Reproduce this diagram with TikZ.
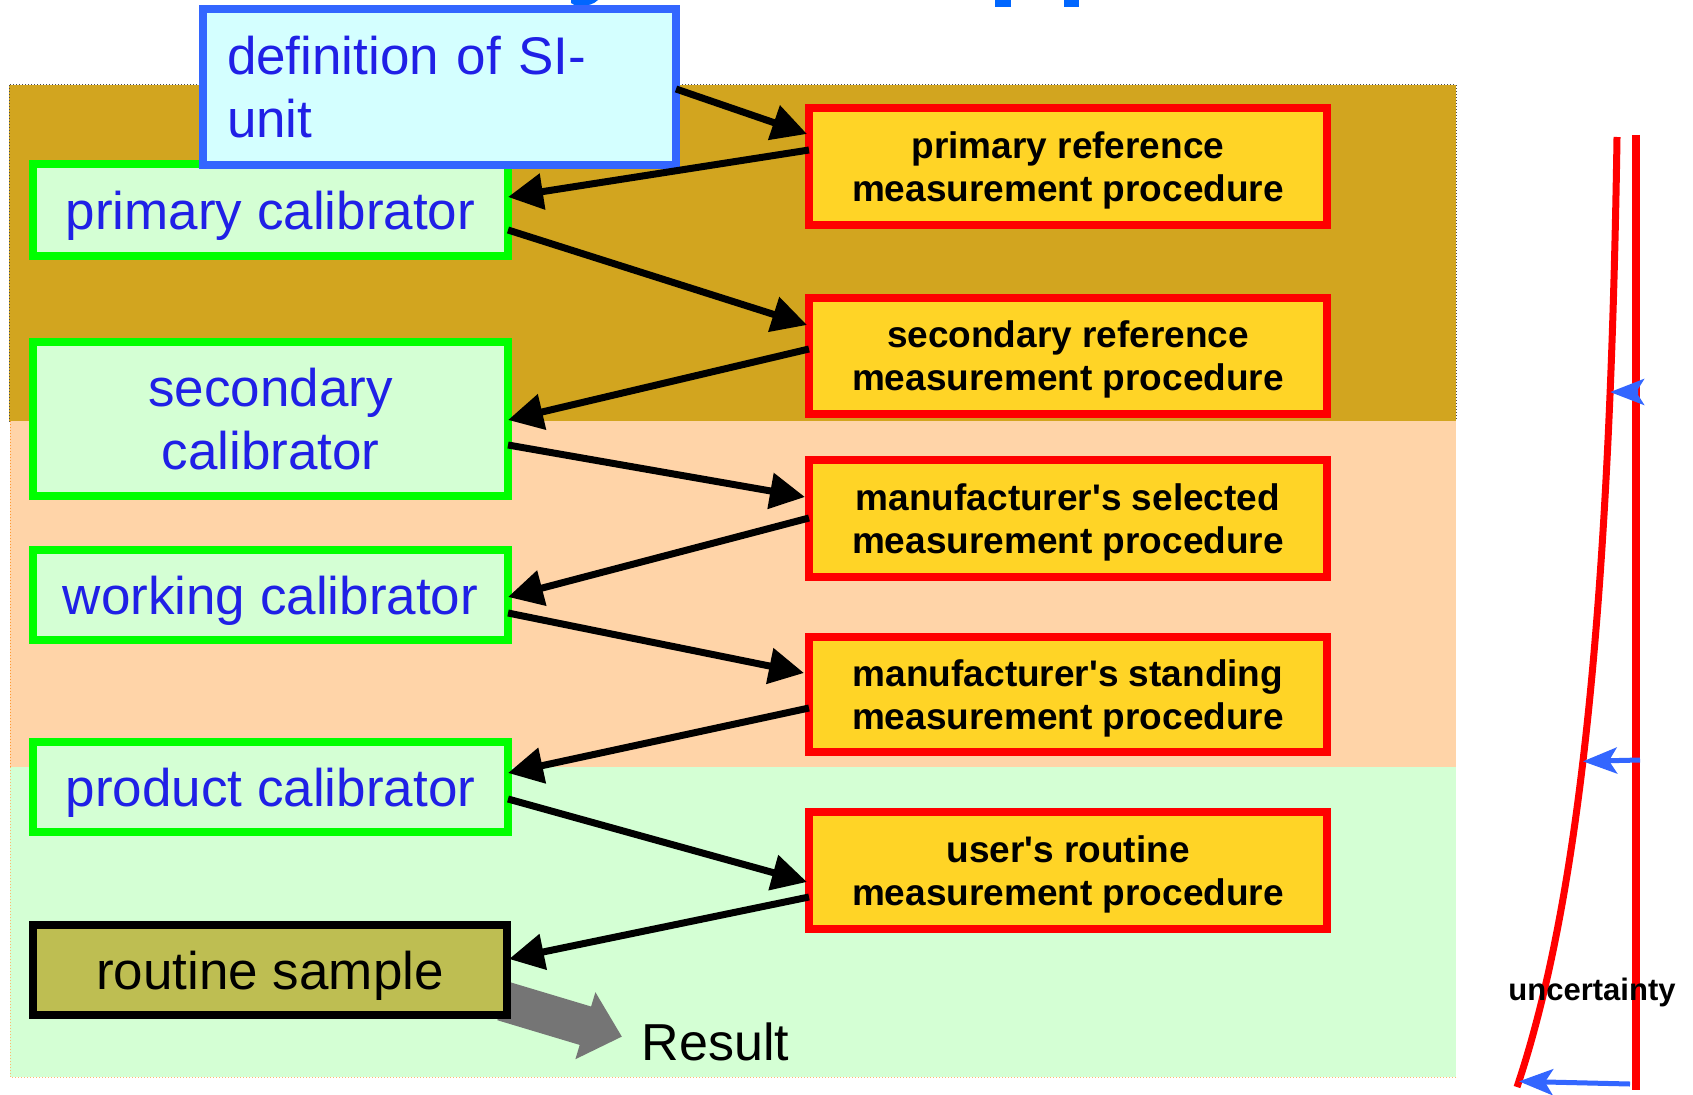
\documentclass[tikz,border=0pt]{standalone}
\usepackage{fontspec}
\setmainfont{Liberation Sans}
\usetikzlibrary{arrows.meta,calc}
\definecolor{brownbase}{HTML}{CC9900}
\definecolor{peachbase}{HTML}{FFCC99}
\definecolor{greenbase}{HTML}{CCFFCC}
\definecolor{cyanbase}{HTML}{CCFFFF}
\definecolor{yellowbase}{HTML}{FFCC00}
\definecolor{olivebase}{HTML}{B3B333}
\definecolor{graybase}{HTML}{666666}
\definecolor{bluetext}{RGB}{32,32,230}
\definecolor{defblue}{HTML}{3366FF}
\definecolor{titleblue}{HTML}{0066FF}
\definecolor{calgreen}{HTML}{00FF00}
\definecolor{bandorange}{HTML}{FF9933}
\tikzset{
  band/.style={line width=1pt, dotted},
  calbox/.style={draw=calgreen, line width=8pt, fill=greenbase!85!white, text=bluetext,
    font=\fontsize{53}{63}\selectfont, align=center, minimum width=475pt,
    inner sep=0pt, outer sep=0pt, text depth=0pt},
  procbox/.style={draw=red, line width=8pt, fill=yellowbase!85!white, text=black,
    font=\bfseries\fontsize{37}{43}\selectfont, align=center, minimum width=518pt,
    inner sep=0pt, outer sep=0pt, text depth=0pt},
  defbox/.style={draw=defblue, line width=8pt, fill=cyanbase!85!white, text=bluetext,
    font=\fontsize{53}{63}\selectfont, align=left, text width=425pt,
    inner xsep=24pt, inner ysep=0pt, minimum height=156pt, outer sep=0pt},
  samplebox/.style={draw=black, line width=8pt, fill=olivebase!85!white, text=black,
    font=\fontsize{53}{63}\selectfont, minimum width=474pt, minimum height=90pt,
    inner sep=0pt, outer sep=0pt, text depth=0pt},
  conn/.style={draw=black, line width=7pt, -{Triangle[length=35pt,width=35pt]}},
  uarrow/.style={draw=defblue, line width=5pt, -{Stealth[length=34pt,width=26pt,inset=8pt]}},
  plain/.style={inner sep=0pt, outer sep=0pt, text depth=0pt}
}
\begin{document}
\begin{tikzpicture}[x=1pt,y=-1pt]
\useasboundingbox (0,0) rectangle (1693,1094);
\fill[white] (0,0) rectangle (1693,1094);

% title fragments (cut off at the top)
\fill[titleblue] (571,0) -- (598,0) .. controls (594,4) and (588,6) .. (580,6)
  .. controls (576,6) and (573,5) .. (571,3) -- cycle;
\fill[titleblue] (995,0) rectangle (1011,7);
\fill[titleblue] (1064,0) rectangle (1079,7);

% background bands
\fill[brownbase!88!white] (9,85) rectangle (1456,421);
\draw[band, black!70] (9,85) rectangle (1456,421);
\fill[peachbase!85!white] (10,421) rectangle (1456,767);
\draw[band, bandorange] (10,421) -- (10,767) -- (1456,767);
\fill[greenbase!85!white] (10,767) rectangle (1456,1077);
\draw[band, bandorange!70] (10,767) -- (10,1077) -- (1456,1077);

% calibrators
\node[calbox, minimum height=92pt]  (pc)  at (270.5,210) {primary calibrator};
\node[calbox, minimum height=154pt] (sc)  at (270.5,419) {secondary\\calibrator};
\node[calbox, minimum height=90pt]  (wc)  at (270.5,595) {working calibrator};
\node[calbox, minimum height=90pt]  (prc) at (270.5,787) {product calibrator};

% definition
\node[defbox] (def) at (439.5,87) {definition of SI-\\unit};

% procedures
\node[procbox, minimum height=117pt] (prm)  at (1068,166.5) {primary reference\\measurement procedure};
\node[procbox, minimum height=116pt] (srm)  at (1068,356)   {secondary reference\\measurement procedure};
\node[procbox, minimum height=117pt] (msel) at (1068,518.5) {manufacturer\textquotesingle s selected\\measurement procedure};
\node[procbox, minimum height=115pt] (mst)  at (1068,694.5) {manufacturer\textquotesingle s standing\\measurement procedure};
\node[procbox, minimum height=117pt] (usr)  at (1068,870.5) {user\textquotesingle s routine\\measurement procedure};

% result arrow (under the routine sample box)
\fill[graybase!90!white] (508.7,981.8) -- (591.1,1006.5) -- (595.4,992.2) -- (621.8,1036.6)
  -- (575.4,1059.2) -- (579.7,1044.9) -- (497.3,1020.2) -- cycle;

% routine sample
\node[samplebox] (rs) at (270,970) {routine sample};
\node[plain, font=\fontsize{52}{62}\selectfont] (res) at (715.5,1041.5) {Result};

% connectors
\draw[conn] ($(def.north east)+(0,80)$)  -- ($(prm.north west)+(-2,26)$);
\draw[conn] ($(prm.north west)+(0,42)$)  -- ($(pc.north east)+(0,33)$);
\draw[conn] ($(pc.north east)+(0,66)$)   -- ($(srm.north west)+(-2,27)$);
\draw[conn] ($(srm.north west)+(0,51)$)  -- ($(sc.north east)+(0,78)$);
\draw[conn] ($(sc.north east)+(0,103)$)  -- ($(msel.north west)+(-4,37)$);
\draw[conn] ($(msel.north west)+(0,58)$) -- ($(wc.north east)+(0,47)$);
\draw[conn] ($(wc.north east)+(0,63)$)   -- ($(mst.north west)+(-5,36)$);
\draw[conn] ($(mst.north west)+(0,71)$)  -- ($(prc.north east)+(0,31)$);
\draw[conn] ($(prc.north east)+(0,57)$)  -- ($(usr.north west)+(-2,70)$);
\draw[conn] ($(usr.north west)+(0,85)$)  -- ($(rs.north east)+(2,34)$);

% uncertainty graphic
\coordinate (ua) at (1636,135);
\coordinate (ub) at (1636,1090);
\coordinate (ct) at (1617,137);
\coordinate (cb) at (1517,1087);
\draw[red, line width=8pt] (ua) -- (ub);
\draw[red, line width=7pt] (ct) .. controls (1610,600) and (1580,900) .. (cb)
  coordinate[pos=0.197] (c1) coordinate[pos=0.55] (c2) coordinate[pos=0.99] (c3);
\coordinate (s1) at (1638,392);
\coordinate (s2) at (1640,760);
\coordinate (s3) at (1630,1084);
\draw[uarrow] (s1) -- (c1);
\draw[uarrow] (s2) -- (c2);
\draw[uarrow] (s3) -- (c3);
\node[plain, font=\bfseries\fontsize{31}{37}\selectfont] (unc) at (1592,989) {uncertainty};
\end{tikzpicture}
\end{document}
